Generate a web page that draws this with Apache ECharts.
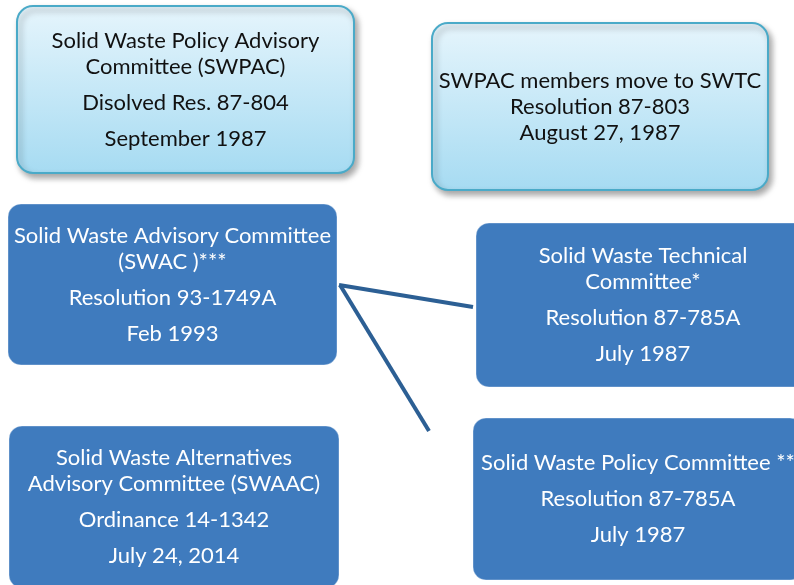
<!DOCTYPE html>
<html>
<head>
<meta charset="utf-8">
<script src="https://cdn.jsdelivr.net/npm/echarts@6/dist/echarts.min.js"></script>
<style>
  html, body { margin: 0; padding: 0; background: #fff; }
  #chart { width: 794px; height: 585px; }
</style>
</head>
<body>
<div id="chart"></div>
<script>
// box texts: committee name lines, then resolution / date lines
const boxTitles = [
  ['Solid Waste Policy Advisory', 'Committee (SWPAC)'],
  ['SWPAC members move to SWTC', 'Resolution 87-803', 'August 27, 1987'],
  ['Solid Waste Advisory Committee', '(SWAC )***'],
  ['Solid Waste Technical', 'Committee*'],
  ['Solid Waste Alternatives', 'Advisory Committee (SWAAC)'],
  ['Solid Waste Policy Committee **']
];
const boxActs = [
  ['Disolved Res. 87-804', 'September 1987'],
  [],
  ['Resolution 93-1749A', 'Feb 1993'],
  ['Resolution 87-785A', 'July 1987'],
  ['Ordinance 14-1342', 'July 24, 2014'],
  ['Resolution 87-785A', 'July 1987']
];
const boxKinds = ['light', 'light', 'dark', 'dark', 'dark', 'dark'];

// page layout (x, y, width, height) in the 794x585 frame
const boxRects = [
  [17, 6, 337, 167],
  [432, 23, 336, 167],
  [8, 204, 329, 161],
  [476, 223, 334, 164],
  [9, 426, 330, 162],
  [473, 418, 330, 162]
];
const connectors = [
  [[339, 285], [473, 307]],
  [[340, 285], [429, 431]]
];

var dom = document.getElementById('chart');
var myChart = echarts.init(dom, null, { renderer: 'canvas' });

function renderBox(params, api) {
  var i = params.dataIndex;
  var tl = api.coord([api.value(0), api.value(1)]);
  var w = api.value(2), h = api.value(3);
  var light = boxKinds[i] === 'light';
  var children = [];
  children.push({
    type: 'rect',
    shape: { x: tl[0], y: tl[1], width: w, height: h, r: light ? 16 : 13 },
    style: light ? {
      fill: new echarts.graphic.LinearGradient(0, 0, 0, 1, [
        { offset: 0, color: '#e6f5fc' },
        { offset: 1, color: '#a6dbf2' }
      ]),
      stroke: '#4aaac8',
      lineWidth: 2,
      shadowColor: 'rgba(0,0,0,0.35)',
      shadowBlur: 6,
      shadowOffsetX: 3,
      shadowOffsetY: 4
    } : {
      fill: '#3f7bbe',
      stroke: 'rgba(255,255,255,0.35)',
      lineWidth: 1
    }
  });
  // line positions: title lines 26px apart, act lines 36px apart
  var lines = boxTitles[i].concat(boxActs[i]);
  var ys = [0];
  for (var k = 1; k < lines.length; k++) {
    ys.push(ys[k - 1] + (k < boxTitles[i].length ? 26 : 36));
  }
  var mid = (ys[0] + ys[ys.length - 1]) / 2;
  var cx = tl[0] + w / 2, cy = tl[1] + h / 2;
  lines.forEach(function (t, k) {
    children.push({
      type: 'text',
      x: cx,
      y: cy + ys[k] - mid,
      style: {
        text: t,
        fill: light ? '#111' : '#fff',
        font: '22px Lato',
        align: 'center',
        verticalAlign: 'middle'
      }
    });
  });
  return { type: 'group', children: children };
}

var option = {
  animation: false,
  grid: { left: 0, right: 0, top: 0, bottom: 0 },
  xAxis: { type: 'value', min: 0, max: 794, show: false },
  yAxis: { type: 'value', min: 0, max: 585, inverse: true, show: false },
  series: [
    {
      type: 'lines',
      coordinateSystem: 'cartesian2d',
      z: 1,
      lineStyle: { color: '#2c5f94', width: 4, opacity: 1 },
      data: connectors.map(function (c) { return { coords: c }; })
    },
    {
      type: 'custom',
      z: 2,
      renderItem: renderBox,
      data: boxRects
    }
  ]
};

myChart.setOption(option);
window.addEventListener('resize', myChart.resize);
</script>
</body>
</html>
